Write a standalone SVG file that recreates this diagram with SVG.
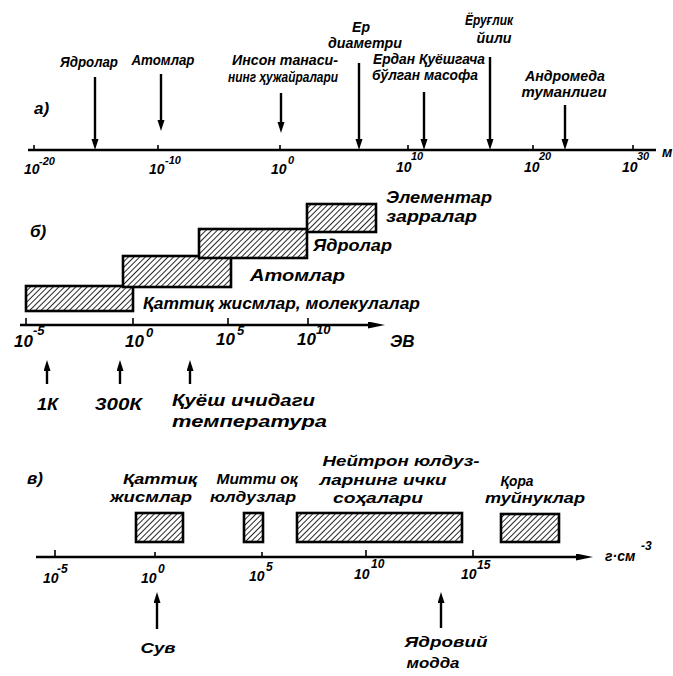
<svg xmlns="http://www.w3.org/2000/svg" width="673" height="676" viewBox="0 0 673 676">
<style>
text{font-family:"Liberation Sans","DejaVu Sans",sans-serif;font-style:italic;font-weight:bold;fill:#000}
.t15{font-size:14px}
.t17{font-size:17px}
.ex{font-size:11px}
.ax{stroke:#000;stroke-width:2.6;fill:none}
.tk{stroke:#000;stroke-width:1.6}
.ar{stroke:#000;stroke-width:2.4;fill:none;marker-end:url(#ah)}
.box{fill:url(#hatch);stroke:#000;stroke-width:2.6}
</style>
<defs>
<pattern id="hatch" patternUnits="userSpaceOnUse" width="4" height="4" patternTransform="rotate(45)">
<rect width="4" height="4" fill="#fff"/>
<line x1="0" y1="0" x2="0" y2="4" stroke="#000" stroke-width="1.7"/>
</pattern>
<marker id="ah" markerUnits="userSpaceOnUse" markerWidth="12" markerHeight="8" refX="4" refY="3.5" orient="auto">
<path d="M0,0 L11,3.5 L0,7 z" fill="#000"/>
</marker>
<marker id="axh" markerUnits="userSpaceOnUse" markerWidth="18" markerHeight="8" refX="4" refY="3.5" orient="auto">
<path d="M0,0 L17,3.5 L0,7 z" fill="#000"/>
</marker>
</defs>
<rect width="673" height="676" fill="#fff"/>

<!-- ===== a) ===== -->
<g id="a-axis">
<line class="ax" x1="28" y1="150" x2="656" y2="150"/>
<line class="tk" x1="34" y1="145" x2="34" y2="150"/>
<line class="tk" x1="158" y1="145" x2="158" y2="150"/>
<line class="tk" x1="280" y1="145" x2="280" y2="150"/>
<line class="tk" x1="408" y1="145" x2="408" y2="150"/>
<line class="tk" x1="533" y1="145" x2="533" y2="150"/>
<line class="tk" x1="633" y1="145" x2="633" y2="150"/>
<text class="t15" x="24" y="174">10</text><text class="ex" x="39" y="165">-20</text>
<text class="t15" x="149" y="174">10</text><text class="ex" x="165" y="164">-10</text>
<text class="t15" x="271" y="174">10</text><text class="ex" x="288" y="164">0</text>
<text class="t15" x="396" y="172">10</text><text class="ex" x="411" y="160">10</text>
<text class="t15" x="524" y="172">10</text><text class="ex" x="539" y="160">20</text>
<text class="t15" x="622" y="172">10</text><text class="ex" x="637" y="160">30</text>
<text class="t15" x="662" y="157">м</text>
</g>
<g id="a-label"><text class="t17" x="34" y="114">а)</text></g>
<g id="a-nuclei"><text class="t15" x="89" y="67" text-anchor="middle" textLength="58" lengthAdjust="spacingAndGlyphs">Ядролар</text></g>
<g id="a-atoms"><text class="t15" x="163" y="65" text-anchor="middle" textLength="63" lengthAdjust="spacingAndGlyphs">Атомлар</text></g>
<g id="a-cells">
<text class="t15" x="285" y="65" text-anchor="middle" textLength="106" lengthAdjust="spacingAndGlyphs">Инсон танаси-</text>
<text class="t15" x="283" y="82" text-anchor="middle" textLength="110" lengthAdjust="spacingAndGlyphs">нинг ҳужайралари</text>
</g>
<g id="a-earth">
<text class="t15" x="361" y="32" text-anchor="middle">Ер</text>
<text class="t15" x="365" y="48" text-anchor="middle" textLength="74" lengthAdjust="spacingAndGlyphs">диаметри</text>
</g>
<g id="a-sun">
<text class="t15" x="429" y="64" text-anchor="middle" textLength="112" lengthAdjust="spacingAndGlyphs">Ердан Қуёшгача</text>
<text class="t15" x="425" y="80" text-anchor="middle" textLength="106" lengthAdjust="spacingAndGlyphs">бўлган масофа</text>
</g>
<g id="a-lightyear">
<text class="t15" x="489" y="25" text-anchor="middle" textLength="48" lengthAdjust="spacingAndGlyphs">Ёруғлик</text>
<text class="t15" x="494" y="43" text-anchor="middle" textLength="35" lengthAdjust="spacingAndGlyphs">йили</text>
</g>
<g id="a-andromeda">
<text class="t15" x="565" y="81" text-anchor="middle" textLength="80" lengthAdjust="spacingAndGlyphs">Андромеда</text>
<text class="t15" x="564" y="97" text-anchor="middle" textLength="85" lengthAdjust="spacingAndGlyphs">туманлиги</text>
</g>

<!-- ===== б) ===== -->
<g id="b-axis">
<line class="ax" x1="20" y1="325" x2="372" y2="325" marker-end="url(#axh)"/>
<line class="tk" x1="26" y1="318" x2="26" y2="325"/>
<line class="tk" x1="133" y1="318" x2="133" y2="325"/>
<line class="tk" x1="228" y1="318" x2="228" y2="325"/>
<line class="tk" x1="308" y1="318" x2="308" y2="325"/>
<text class="t17" x="14" y="347">10</text><text class="ex" x="33" y="335" style="font-size:13px">-5</text>
<text class="t17" x="125" y="347">10</text><text class="ex" x="146" y="337" style="font-size:13px">0</text>
<text class="t17" x="216" y="345">10</text><text class="ex" x="237" y="335" style="font-size:13px">5</text>
<text class="t17" x="297" y="345">10</text><text class="ex" x="316" y="334" style="font-size:13px">10</text>
<text class="t17" x="390" y="347">ЭВ</text>
</g>
<g id="b-label"><text class="t17" x="30" y="237">б)</text></g>
<g id="b-solids">
<rect class="box" x="26" y="286" width="107" height="25"/>
<text class="t17" x="143" y="309" textLength="277" lengthAdjust="spacingAndGlyphs">Қаттиқ жисмлар, молекулалар</text>
</g>
<g id="b-atoms">
<rect class="box" x="123" y="256" width="108" height="31"/>
<text class="t17" x="250" y="281" textLength="95" lengthAdjust="spacingAndGlyphs">Атомлар</text>
</g>
<g id="b-nuclei">
<rect class="box" x="199" y="229" width="108" height="29"/>
<text class="t17" x="313" y="251" textLength="79" lengthAdjust="spacingAndGlyphs">Ядролар</text>
</g>
<g id="b-elementary">
<rect class="box" x="307" y="204" width="69" height="28"/>
<text class="t17" x="386" y="203" textLength="106" lengthAdjust="spacingAndGlyphs">Элементар</text>
<text class="t17" x="386" y="222" textLength="91" lengthAdjust="spacingAndGlyphs">зарралар</text>
</g>
<g id="b-1k"><text class="t17" x="37" y="410" textLength="21" lengthAdjust="spacingAndGlyphs">1К</text></g>
<g id="b-300k"><text class="t17" x="95" y="410" textLength="47" lengthAdjust="spacingAndGlyphs">300К</text></g>
<g id="b-sun">
<text class="t17" x="172" y="406" textLength="143" lengthAdjust="spacingAndGlyphs">Қуёш ичидаги</text>
<text class="t17" x="172" y="427" textLength="155" lengthAdjust="spacingAndGlyphs">температура</text>
</g>

<!-- ===== в) ===== -->
<g id="c-axis">
<line class="ax" x1="36" y1="557" x2="580" y2="557" marker-end="url(#axh)"/>
<line class="tk" x1="55" y1="550" x2="55" y2="557"/>
<line class="tk" x1="155" y1="552" x2="155" y2="557"/>
<line class="tk" x1="262" y1="552" x2="262" y2="557"/>
<line class="tk" x1="366" y1="550" x2="366" y2="557"/>
<line class="tk" x1="473" y1="550" x2="473" y2="557"/>
<text class="t15" x="43" y="583">10</text><text class="ex" x="57" y="573" style="font-size:12px">-5</text>
<text class="t15" x="141" y="583">10</text><text class="ex" x="158" y="573" style="font-size:12px">0</text>
<text class="t15" x="249" y="581">10</text><text class="ex" x="266" y="571" style="font-size:12px">5</text>
<text class="t15" x="354" y="579">10</text><text class="ex" x="371" y="568" style="font-size:12px">10</text>
<text class="t15" x="461" y="579">10</text><text class="ex" x="477" y="569" style="font-size:12px">15</text>
<text class="t15" x="605" y="561">г·см</text><text class="ex" x="641" y="550" style="font-size:12px">-3</text>
</g>
<g id="c-label"><text class="t17" x="27" y="484">в)</text></g>
<g id="c-solids">
<rect class="box" x="136" y="513" width="47" height="29"/>
<text class="t15" x="160" y="484" text-anchor="middle" textLength="74" lengthAdjust="spacingAndGlyphs">Қаттиқ</text>
<text class="t15" x="151" y="502" text-anchor="middle" textLength="82" lengthAdjust="spacingAndGlyphs">жисмлар</text>
</g>
<g id="c-whitedwarfs">
<rect class="box" x="244" y="513" width="19" height="29"/>
<text class="t15" x="257" y="484" text-anchor="middle" textLength="81" lengthAdjust="spacingAndGlyphs">Митти оқ</text>
<text class="t15" x="253" y="502" text-anchor="middle" textLength="86" lengthAdjust="spacingAndGlyphs">юлдузлар</text>
</g>
<g id="c-neutron">
<rect class="box" x="297" y="513" width="165" height="29"/>
<text class="t15" x="401" y="466" text-anchor="middle" textLength="157" lengthAdjust="spacingAndGlyphs">Нейтрон юлдуз-</text>
<text class="t15" x="383" y="485" text-anchor="middle" textLength="127" lengthAdjust="spacingAndGlyphs">ларнинг ички</text>
<text class="t15" x="378" y="503" text-anchor="middle" textLength="90" lengthAdjust="spacingAndGlyphs">соҳалари</text>
</g>
<g id="c-blackholes">
<rect class="box" x="501" y="514" width="58" height="28"/>
<text class="t15" x="517" y="486" text-anchor="middle" textLength="33" lengthAdjust="spacingAndGlyphs">Қора</text>
<text class="t15" x="535" y="503" text-anchor="middle" textLength="100" lengthAdjust="spacingAndGlyphs">туйнуклар</text>
</g>
<g id="c-water"><text class="t15" x="158" y="653" text-anchor="middle" textLength="35" lengthAdjust="spacingAndGlyphs">Сув</text></g>
<g id="c-nuclear">
<text class="t15" x="446" y="647" text-anchor="middle" textLength="83" lengthAdjust="spacingAndGlyphs">Ядровий</text>
<text class="t15" x="433" y="668" text-anchor="middle" textLength="53" lengthAdjust="spacingAndGlyphs">модда</text>
</g>

<g id="connectors">
<line class="ar" x1="95" y1="77" x2="95" y2="143"/>
<line class="ar" x1="161" y1="74" x2="161" y2="124"/>
<line class="ar" x1="281" y1="93" x2="281" y2="126"/>
<line class="ar" x1="359" y1="63" x2="359" y2="143"/>
<line class="ar" x1="424" y1="92" x2="424" y2="143"/>
<line class="ar" x1="490" y1="57" x2="490" y2="143"/>
<line class="ar" x1="565" y1="105" x2="565" y2="143"/>
<line class="ar" x1="47" y1="384" x2="47" y2="367"/>
<line class="ar" x1="120" y1="384" x2="120" y2="367"/>
<line class="ar" x1="190" y1="384" x2="190" y2="367"/>
<line class="ar" x1="157" y1="629" x2="157" y2="599"/>
<line class="ar" x1="441" y1="628" x2="441" y2="599"/>
</g>
</svg>
